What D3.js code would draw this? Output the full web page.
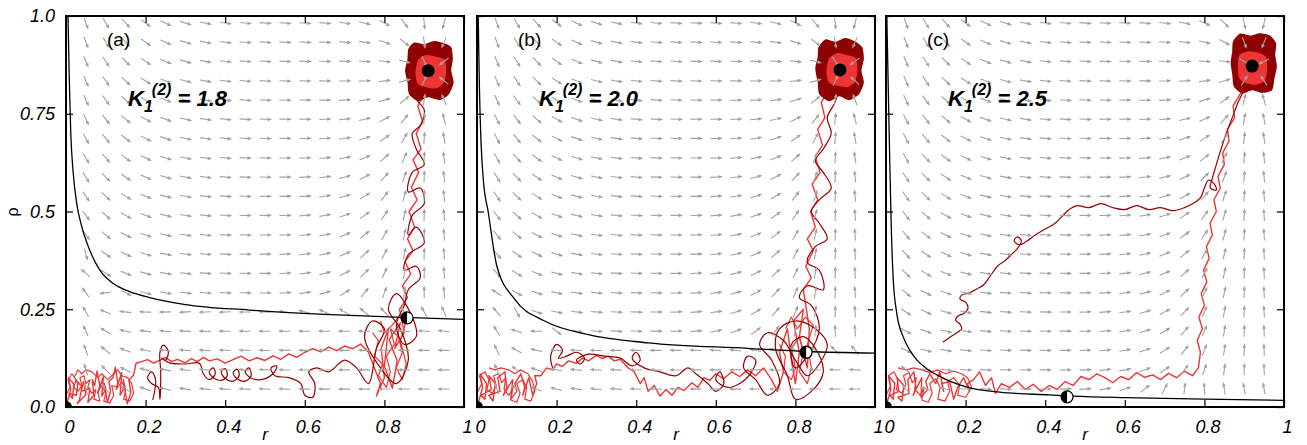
<!DOCTYPE html>
<html>
<head>
<meta charset="utf-8">
<script src="https://cdn.jsdelivr.net/npm/d3@7"></script>
<style>
body { margin: 0; background: #fff; }
text { font-family: "Liberation Sans", Arial, sans-serif; }
</style>
</head>
<body>
<div id="chart"></div>
<script>
// Panel labels and coupling values
var panelTags = ["(a)", "(b)", "(c)"];
var kValues = ["1.8", "2.0", "2.5"];

// Tick labels
var xTicks = [0, 0.2, 0.4, 0.6, 0.8, 1];
var xTickText = ["0", "0.2", "0.4", "0.6", "0.8", "1"];
var yTicks = [0, 0.25, 0.5, 0.75, 1];
var yTickText = ["0.0", "0.25", "0.5", "0.75", "1.0"];

// Vector field grid (r columns, rho rows)
var gridR = [0.05, 0.10, 0.15, 0.20, 0.25, 0.30, 0.35, 0.40, 0.45, 0.50, 0.55, 0.60, 0.65, 0.70, 0.75, 0.80, 0.85, 0.90, 0.95];
var gridRho = [0.046, 0.095, 0.145, 0.194, 0.243, 0.292, 0.342, 0.391, 0.440, 0.490, 0.539, 0.588, 0.637, 0.687, 0.736, 0.785, 0.834, 0.884, 0.933, 0.982];

// Fixed points: stable node, saddle
var nodePts = [[0.91, 0.86], [0.912, 0.862], [0.92, 0.872]];
var saddlePts = [[0.857, 0.228], [0.827, 0.14], [0.455, 0.026]];

// Separatrix curves
var sepA_r = [0.005, 0.008, 0.012, 0.018, 0.027, 0.04, 0.06, 0.085, 0.12, 0.16, 0.21, 0.3, 0.46, 0.65, 0.85, 1.0];
var sepA_rho = [1.0, 0.85, 0.7, 0.6, 0.52, 0.46, 0.4, 0.35, 0.315, 0.295, 0.28, 0.262, 0.248, 0.237, 0.229, 0.224];
var sepB_r = [0.003, 0.006, 0.01, 0.016, 0.028, 0.05, 0.095, 0.17, 0.28, 0.43, 0.68, 0.83, 1.0];
var sepB_rho = [1.0, 0.82, 0.68, 0.58, 0.5, 0.36, 0.275, 0.22, 0.185, 0.164, 0.15, 0.142, 0.138];
var sepC_r = [0.002, 0.005, 0.009, 0.013, 0.018, 0.027, 0.043, 0.06, 0.078, 0.1, 0.128, 0.16, 0.203, 0.286, 0.41, 0.47, 0.6, 0.8, 1.0];
var sepC_rho = [1.0, 0.85, 0.65, 0.47, 0.33, 0.24, 0.18, 0.145, 0.12, 0.1, 0.082, 0.066, 0.051, 0.038, 0.031, 0.028, 0.024, 0.02, 0.017];

// Noisy trajectories (bright) and smooth looping ones (dark), [r, rho]
var trajA_bright = [[0.003,0.012],[0.012,0.045],[0.006,0.075],[0.02,0.058],[0.016,0.022],[0.008,0.035],[0.026,0.03],[0.03,0.06],[0.024,0.07],[0.04,0.052],[0.034,0.018],[0.028,0.008],[0.05,0.032],[0.044,0.065],[0.038,0.04],[0.06,0.048],[0.055,0.012],[0.07,0.03],[0.066,0.07],[0.072,0.055],[0.078,0.092],[0.085,0.055],[0.08,0.035],[0.094,0.078],[0.09,0.028],[0.1,0.046],[0.096,0.06],[0.104,0.012],[0.112,0.04],[0.108,0.065],[0.118,0.075],[0.124,0.102],[0.13,0.062],[0.126,0.045],[0.14,0.088],[0.136,0.03],[0.148,0.052],[0.144,0.07],[0.154,0.008],[0.163,0.038],[0.158,0.068],[0.17,0.082],[0.176,0.112],[0.19,0.116],[0.205,0.121],[0.22,0.112],[0.235,0.119],[0.25,0.127],[0.265,0.116],[0.28,0.122],[0.3,0.113],[0.315,0.124],[0.33,0.116],[0.345,0.127],[0.36,0.118],[0.38,0.123],[0.4,0.112],[0.42,0.121],[0.44,0.13],[0.46,0.118],[0.48,0.126],[0.5,0.119],[0.52,0.131],[0.54,0.122],[0.56,0.136],[0.58,0.127],[0.6,0.14],[0.62,0.149],[0.64,0.141],[0.66,0.153],[0.68,0.144],[0.7,0.156],[0.72,0.149],[0.74,0.161],[0.76,0.14],[0.775,0.1],[0.79,0.06],[0.78,0.028],[0.8,0.075],[0.792,0.15],[0.81,0.2],[0.8,0.105],[0.82,0.048],[0.832,0.118],[0.812,0.172],[0.84,0.215],[0.826,0.15],[0.85,0.19],[0.838,0.25],[0.858,0.28],[0.845,0.31],[0.866,0.34],[0.852,0.372],[0.872,0.4],[0.858,0.43],[0.876,0.46],[0.862,0.5],[0.882,0.53],[0.868,0.562],[0.886,0.6],[0.872,0.632],[0.892,0.66],[0.88,0.7],[0.896,0.73],[0.884,0.77],[0.9,0.8],[0.906,0.84]];
var trajA_dark = [[0.218,0.018],[0.225,0.07],[0.215,0.09],[0.205,0.075],[0.215,0.06],[0.232,0.05],[0.236,0.02],[0.238,0.09],[0.236,0.14],[0.245,0.158],[0.257,0.142],[0.25,0.12],[0.24,0.125],[0.26,0.113],[0.3,0.11],[0.335,0.112],[0.345,0.085],[0.36,0.07],[0.375,0.085],[0.37,0.1],[0.36,0.09],[0.37,0.075],[0.39,0.068],[0.405,0.08],[0.4,0.098],[0.39,0.09],[0.4,0.073],[0.42,0.066],[0.435,0.08],[0.43,0.097],[0.42,0.088],[0.43,0.072],[0.45,0.066],[0.465,0.08],[0.46,0.1],[0.45,0.09],[0.465,0.074],[0.49,0.07],[0.52,0.085],[0.53,0.105],[0.515,0.1],[0.525,0.08],[0.56,0.075],[0.59,0.06],[0.6,0.03],[0.62,0.025],[0.625,0.06],[0.61,0.09],[0.63,0.1],[0.66,0.09],[0.7,0.12],[0.73,0.1],[0.76,0.06],[0.78,0.15],[0.8,0.2],[0.77,0.22],[0.75,0.18],[0.79,0.1],[0.83,0.06],[0.86,0.12],[0.84,0.2],[0.81,0.25],[0.83,0.29],[0.87,0.23],[0.88,0.18],[0.85,0.16],[0.83,0.21],[0.85,0.26],[0.86,0.3],[0.89,0.33],[0.88,0.36],[0.85,0.35],[0.86,0.39],[0.9,0.42],[0.88,0.46],[0.86,0.44],[0.87,0.49],[0.9,0.52],[0.89,0.56],[0.86,0.55],[0.87,0.6],[0.9,0.62],[0.88,0.66],[0.87,0.7],[0.89,0.72],[0.9,0.76],[0.88,0.79],[0.91,0.82]];
var trajB_bright = [[0.003,0.01],[0.014,0.05],[0.008,0.085],[0.024,0.06],[0.02,0.02],[0.01,0.03],[0.036,0.045],[0.03,0.08],[0.046,0.06],[0.04,0.015],[0.03,0.03],[0.058,0.04],[0.052,0.075],[0.07,0.09],[0.075,0.05],[0.066,0.03],[0.09,0.07],[0.085,0.02],[0.1,0.04],[0.095,0.06],[0.11,0.085],[0.12,0.05],[0.115,0.03],[0.13,0.075],[0.14,0.03],[0.15,0.06],[0.145,0.08],[0.16,0.08],[0.175,0.1],[0.19,0.095],[0.2,0.11],[0.215,0.104],[0.23,0.118],[0.25,0.112],[0.265,0.125],[0.28,0.118],[0.3,0.132],[0.315,0.124],[0.33,0.13],[0.345,0.118],[0.36,0.122],[0.38,0.1],[0.395,0.09],[0.41,0.06],[0.42,0.075],[0.43,0.04],[0.445,0.055],[0.46,0.028],[0.475,0.045],[0.49,0.03],[0.505,0.05],[0.52,0.042],[0.54,0.062],[0.555,0.05],[0.57,0.075],[0.585,0.068],[0.6,0.085],[0.62,0.072],[0.64,0.09],[0.66,0.078],[0.68,0.095],[0.7,0.08],[0.72,0.1],[0.74,0.07],[0.755,0.04],[0.77,0.09],[0.76,0.14],[0.78,0.2],[0.79,0.12],[0.8,0.06],[0.81,0.14],[0.795,0.22],[0.82,0.25],[0.81,0.18],[0.83,0.1],[0.835,0.2],[0.82,0.3],[0.84,0.33],[0.826,0.36],[0.845,0.4],[0.83,0.43],[0.85,0.46],[0.838,0.5],[0.856,0.53],[0.842,0.57],[0.862,0.6],[0.85,0.64],[0.868,0.67],[0.856,0.71],[0.874,0.74],[0.865,0.78],[0.885,0.81],[0.9,0.84]];
var trajB_dark = [[0.19,0.1],[0.185,0.13],[0.2,0.16],[0.215,0.145],[0.205,0.125],[0.225,0.13],[0.25,0.14],[0.27,0.125],[0.26,0.11],[0.25,0.12],[0.28,0.135],[0.32,0.13],[0.36,0.125],[0.39,0.105],[0.41,0.12],[0.4,0.14],[0.39,0.125],[0.42,0.1],[0.46,0.09],[0.5,0.08],[0.53,0.1],[0.55,0.085],[0.58,0.06],[0.6,0.04],[0.62,0.06],[0.61,0.09],[0.6,0.07],[0.63,0.05],[0.66,0.06],[0.69,0.09],[0.7,0.12],[0.68,0.13],[0.67,0.1],[0.7,0.07],[0.73,0.03],[0.76,0.06],[0.74,0.12],[0.71,0.16],[0.73,0.19],[0.77,0.17],[0.8,0.12],[0.83,0.08],[0.86,0.11],[0.88,0.16],[0.85,0.2],[0.8,0.22],[0.76,0.2],[0.75,0.15],[0.78,0.08],[0.8,0.02],[0.84,0.04],[0.87,0.09],[0.85,0.15],[0.82,0.18],[0.79,0.16],[0.8,0.1],[0.83,0.13],[0.86,0.2],[0.84,0.26],[0.81,0.28],[0.83,0.31],[0.87,0.3],[0.86,0.35],[0.83,0.37],[0.85,0.41],[0.88,0.43],[0.86,0.47],[0.84,0.5],[0.86,0.53],[0.89,0.56],[0.87,0.6],[0.85,0.63],[0.87,0.66],[0.89,0.7],[0.88,0.74],[0.9,0.78],[0.91,0.82]];
var trajC_bright = [[0.003,0.012],[0.012,0.045],[0.006,0.08],[0.022,0.06],[0.018,0.02],[0.01,0.03],[0.032,0.04],[0.028,0.075],[0.045,0.055],[0.04,0.015],[0.03,0.025],[0.058,0.035],[0.055,0.07],[0.07,0.09],[0.075,0.05],[0.068,0.03],[0.09,0.075],[0.088,0.025],[0.105,0.045],[0.1,0.065],[0.11,0.085],[0.125,0.06],[0.135,0.09],[0.145,0.04],[0.14,0.06],[0.16,0.065],[0.17,0.02],[0.18,0.05],[0.195,0.075],[0.21,0.04],[0.205,0.06],[0.22,0.07],[0.235,0.09],[0.25,0.055],[0.265,0.075],[0.275,0.035],[0.29,0.06],[0.31,0.05],[0.33,0.065],[0.35,0.045],[0.37,0.058],[0.39,0.04],[0.41,0.055],[0.43,0.045],[0.45,0.065],[0.47,0.055],[0.49,0.078],[0.51,0.07],[0.53,0.085],[0.55,0.075],[0.57,0.062],[0.59,0.078],[0.61,0.07],[0.63,0.088],[0.65,0.076],[0.67,0.082],[0.69,0.07],[0.71,0.086],[0.73,0.075],[0.75,0.092],[0.77,0.08],[0.785,0.1],[0.79,0.14],[0.782,0.17],[0.795,0.2],[0.786,0.23],[0.8,0.26],[0.792,0.29],[0.806,0.32],[0.798,0.35],[0.812,0.38],[0.805,0.41],[0.82,0.44],[0.814,0.47],[0.83,0.5],[0.824,0.53],[0.84,0.56],[0.834,0.59],[0.85,0.62],[0.846,0.65],[0.862,0.68],[0.858,0.71],[0.876,0.74],[0.872,0.77],[0.89,0.8],[0.905,0.83]];
var trajC_dark = [[0.143,0.166],[0.16,0.178],[0.178,0.19],[0.19,0.2],[0.186,0.212],[0.175,0.222],[0.18,0.232],[0.196,0.24],[0.206,0.252],[0.2,0.268],[0.186,0.276],[0.19,0.286],[0.21,0.292],[0.228,0.302],[0.245,0.312],[0.262,0.335],[0.28,0.36],[0.3,0.375],[0.315,0.39],[0.33,0.405],[0.34,0.425],[0.33,0.435],[0.322,0.425],[0.335,0.415],[0.355,0.425],[0.375,0.44],[0.4,0.455],[0.425,0.47],[0.445,0.49],[0.46,0.505],[0.48,0.515],[0.51,0.51],[0.54,0.52],[0.57,0.51],[0.6,0.505],[0.63,0.515],[0.66,0.505],[0.69,0.51],[0.72,0.502],[0.75,0.51],[0.77,0.52],[0.79,0.535],[0.8,0.56],[0.81,0.58],[0.825,0.57],[0.83,0.555],[0.815,0.56],[0.82,0.585],[0.83,0.62],[0.842,0.66],[0.855,0.7],[0.87,0.74],[0.885,0.78],[0.9,0.81]];

// Extra scribbles where the noisy walks pile up (origin basin, near the saddle)
var scribA = [[0.0,0.03],[0.01,0.05],[0.005,0.07],[0.015,0.085],[0.025,0.07],[0.02,0.05],[0.03,0.04],[0.04,0.055],[0.035,0.075],[0.045,0.08],[0.05,0.06],[0.06,0.07],[0.055,0.05],[0.065,0.035],[0.075,0.045],[0.07,0.02],[0.085,0.015],[0.08,0.04],[0.09,0.055],[0.1,0.035],[0.095,0.015],[0.11,0.01],[0.12,0.03],[0.115,0.055],[0.13,0.05],[0.14,0.065],[0.15,0.045],[0.145,0.02],[0.16,0.015],[0.17,0.035],[0.165,0.06],[0.155,0.075],[0.14,0.08],[0.13,0.095],[0.12,0.085],[0.105,0.07],[0.09,0.085],[0.08,0.075],[0.065,0.09],[0.05,0.095],[0.04,0.085],[0.03,0.095],[0.02,0.075]];
var scribA_saddle = [[0.77,0.19],[0.785,0.17],[0.775,0.13],[0.795,0.11],[0.785,0.08],[0.805,0.05],[0.815,0.09],[0.805,0.13],[0.825,0.16],[0.815,0.2],[0.835,0.18],[0.845,0.14],[0.83,0.1],[0.845,0.07],[0.855,0.11],[0.84,0.17],[0.855,0.22],[0.835,0.23],[0.82,0.21],[0.8,0.19],[0.79,0.22]];
var scribB = [[0.0,0.035],[0.012,0.06],[0.006,0.08],[0.02,0.09],[0.03,0.07],[0.025,0.045],[0.038,0.035],[0.048,0.055],[0.042,0.08],[0.055,0.085],[0.062,0.062],[0.072,0.075],[0.068,0.045],[0.08,0.03],[0.09,0.048],[0.085,0.018],[0.1,0.012],[0.108,0.035],[0.1,0.06],[0.115,0.07],[0.125,0.05],[0.12,0.02],[0.135,0.015],[0.145,0.04],[0.14,0.065],[0.128,0.085],[0.11,0.095],[0.095,0.085],[0.08,0.095],[0.06,0.1],[0.045,0.095],[0.03,0.1]];
var scribB_saddle = [[0.76,0.16],[0.775,0.13],[0.77,0.09],[0.79,0.07],[0.8,0.1],[0.79,0.15],[0.81,0.18],[0.82,0.14],[0.81,0.09],[0.83,0.06],[0.84,0.1],[0.83,0.16],[0.845,0.21],[0.825,0.23],[0.805,0.2],[0.79,0.23],[0.775,0.2]];
var scribC = [[0.0,0.03],[0.012,0.055],[0.006,0.08],[0.02,0.09],[0.03,0.07],[0.026,0.045],[0.04,0.035],[0.05,0.058],[0.044,0.08],[0.058,0.088],[0.066,0.062],[0.076,0.075],[0.072,0.045],[0.086,0.03],[0.096,0.05],[0.09,0.018],[0.106,0.012],[0.116,0.035],[0.11,0.06],[0.125,0.072],[0.136,0.05],[0.13,0.02],[0.148,0.015],[0.16,0.04],[0.155,0.065],[0.17,0.075],[0.185,0.055],[0.18,0.03],[0.2,0.025],[0.215,0.05],[0.205,0.075],[0.19,0.085],[0.17,0.092],[0.15,0.085],[0.13,0.095],[0.11,0.088],[0.09,0.095],[0.07,0.1],[0.05,0.095],[0.03,0.1]];

// Fluctuation clouds round the stable node: outer (dark) and inner (bright)
var cloudA_outer = [[0.86,0.915],[0.875,0.932],[0.9,0.928],[0.925,0.936],[0.95,0.93],[0.968,0.92],[0.972,0.89],[0.968,0.86],[0.974,0.83],[0.962,0.8],[0.94,0.785],[0.91,0.792],[0.885,0.782],[0.862,0.8],[0.858,0.83],[0.852,0.86],[0.858,0.89]];
var cloudA_inner = [[0.885,0.888],[0.905,0.9],[0.93,0.896],[0.952,0.888],[0.955,0.86],[0.95,0.83],[0.93,0.815],[0.905,0.818],[0.884,0.826],[0.878,0.855]];
var cloudB_outer = [[0.858,0.92],[0.875,0.94],[0.9,0.934],[0.925,0.944],[0.95,0.935],[0.968,0.92],[0.972,0.89],[0.966,0.86],[0.972,0.83],[0.96,0.8],[0.935,0.785],[0.91,0.795],[0.885,0.782],[0.86,0.8],[0.856,0.83],[0.85,0.865],[0.856,0.895]];
var cloudB_inner = [[0.885,0.892],[0.905,0.905],[0.93,0.9],[0.952,0.892],[0.956,0.862],[0.95,0.832],[0.93,0.818],[0.905,0.822],[0.884,0.83],[0.878,0.86]];
var cloudC_outer = [[0.872,0.935],[0.89,0.955],[0.915,0.95],[0.94,0.956],[0.965,0.95],[0.98,0.93],[0.978,0.9],[0.982,0.87],[0.976,0.84],[0.97,0.81],[0.945,0.803],[0.92,0.81],[0.895,0.802],[0.874,0.82],[0.87,0.85],[0.866,0.88],[0.87,0.91]];
var cloudC_inner = [[0.888,0.9],[0.91,0.91],[0.935,0.906],[0.955,0.895],[0.958,0.865],[0.952,0.835],[0.93,0.824],[0.905,0.828],[0.888,0.84],[0.884,0.87]];

var panels = [
  {x0: 66,  sepR: sepA_r, sepRho: sepA_rho, bright: trajA_bright, dark: trajA_dark, scrib: [scribA, scribA_saddle], outer: cloudA_outer, inner: cloudA_inner},
  {x0: 477, sepR: sepB_r, sepRho: sepB_rho, bright: trajB_bright, dark: trajB_dark, scrib: [scribB, scribB_saddle], outer: cloudB_outer, inner: cloudB_inner},
  {x0: 886, sepR: sepC_r, sepRho: sepC_rho, bright: trajC_bright, dark: trajC_dark, scrib: [scribC], outer: cloudC_outer, inner: cloudC_inner}
];

var svgWidth = 1307;
var svgHeight = 445;
var plotW = 398;
var plotTop = 16;
var plotBottom = 407;

var brightRed = "#ee3535";
var darkRed = "#960000";
var arrowGrey = "#a3a3a3";

var svg = d3.select("#chart")
  .append("svg")
  .attr("width", svgWidth)
  .attr("height", svgHeight);

// direction of the flow at (r, rho), blended across the separatrix
function flow(r, p, sep, node) {
  var g = sep(r);
  var s = 1 / (1 + Math.exp(-(p - g) / 0.015));
  var dr1 = node[0] - r;
  var dp1 = (node[1] - p) * Math.pow(r / node[0], 6) - 4 * p * Math.exp(-r / 0.1);
  var dr0 = -r;
  var dp0 = 0.6 * (g - p) * Math.exp(-r / 0.3);
  return [s * dr1 + (1 - s) * dr0, s * dp1 + (1 - s) * dp0];
}

panels.forEach(function(P, i) {
  var x = d3.scaleLinear().domain([0, 1]).range([P.x0, P.x0 + plotW]);
  var y = d3.scaleLinear().domain([0, 1]).range([plotBottom, plotTop]);
  var sep = d3.scaleLinear().domain(P.sepR).range(P.sepRho).clamp(true);

  var g = svg.append("g").attr("class", "panel");

  svg.append("clipPath").attr("id", "clip" + i)
    .append("rect")
    .attr("x", P.x0).attr("y", plotTop)
    .attr("width", plotW).attr("height", plotBottom - plotTop);

  var inner = g.append("g").attr("clip-path", "url(#clip" + i + ")");

  var line = d3.line()
    .x(d => x(d[0]))
    .y(d => y(d[1]));

  // trajectories
  inner.selectAll("path.scrib")
    .data(P.scrib)
    .enter()
    .append("path")
    .attr("class", "scrib")
    .attr("d", d => line(d))
    .attr("fill", "none")
    .attr("stroke", brightRed)
    .attr("stroke-width", 1.2)
    .attr("stroke-linejoin", "round");

  inner.append("path")
    .attr("d", line(P.bright))
    .attr("fill", "none")
    .attr("stroke", brightRed)
    .attr("stroke-width", 1.4)
    .attr("stroke-linejoin", "round");

  inner.append("path")
    .attr("d", d3.line().x(d => x(d[0])).y(d => y(d[1])).curve(d3.curveCatmullRom)(P.dark))
    .attr("fill", "none")
    .attr("stroke", darkRed)
    .attr("stroke-width", 1.2);

  // clouds round the node
  var closed = d3.line().x(d => x(d[0])).y(d => y(d[1])).curve(d3.curveCardinalClosed.tension(0.3));
  inner.append("path").attr("d", closed(P.outer)).attr("fill", "#8f0000");
  inner.append("path").attr("d", closed(P.inner)).attr("fill", brightRed);

  // vector field
  var arrows = [];
  gridR.forEach(function(r) {
    gridRho.forEach(function(p) {
      var v = flow(r, p, sep, nodePts[i]);
      var dx = v[0] * plotW, dy = -v[1] * (plotBottom - plotTop);
      var len = Math.sqrt(dx * dx + dy * dy) || 1;
      arrows.push({cx: x(r), cy: y(p), ux: dx / len, uy: dy / len});
    });
  });

  var L = 11;
  inner.append("g").selectAll("path")
    .data(arrows)
    .enter()
    .append("path")
    .attr("d", function(d) {
      var x1 = d.cx - d.ux * L / 2, y1 = d.cy - d.uy * L / 2;
      var x2 = d.cx + d.ux * L / 2, y2 = d.cy + d.uy * L / 2;
      var hx = x2 - d.ux * 2.5, hy = y2 - d.uy * 2.5;
      var px = -d.uy * 1.0, py = d.ux * 1.0;
      return "M" + x1 + "," + y1 + "L" + x2 + "," + y2 +
        "M" + x2 + "," + y2 + "L" + (hx + px) + "," + (hy + py) + "L" + (hx - px) + "," + (hy - py) + "Z";
    })
    .attr("fill", arrowGrey)
    .attr("stroke", arrowGrey)
    .attr("stroke-width", 1.1);

  // separatrix
  var sepPts = P.sepR.map((r, k) => [r, P.sepRho[k]]);
  inner.append("path")
    .attr("d", d3.line().x(d => x(d[0])).y(d => y(d[1])).curve(d3.curveMonotoneX)(sepPts))
    .attr("fill", "none")
    .attr("stroke", "#000")
    .attr("stroke-width", 1.3);

  // fixed points
  inner.append("circle").attr("cx", x(0)).attr("cy", y(0)).attr("r", 6).attr("fill", "#000");
  inner.append("circle").attr("cx", x(nodePts[i][0])).attr("cy", y(nodePts[i][1])).attr("r", 6.5).attr("fill", "#000");
  var sx = x(saddlePts[i][0]), sy = y(saddlePts[i][1]);
  inner.append("circle").attr("cx", sx).attr("cy", sy).attr("r", 6).attr("fill", "#fff").attr("stroke", "#000").attr("stroke-width", 1.3);
  inner.append("path")
    .attr("d", "M" + sx + "," + (sy - 6) + "A6,6 0 0,0 " + sx + "," + (sy + 6) + "Z")
    .attr("fill", "#000");

  // axes with inward ticks on all four sides
  g.append("g")
    .attr("transform", `translate(0, ${plotBottom})`)
    .call(d3.axisBottom(x).tickValues(xTicks).tickSize(-7).tickPadding(13)
      .tickFormat((d, k) => xTickText[k]))
    .call(a => a.select(".domain").remove())
    .selectAll("text")
    .attr("dx", 3)
    .style("font-size", "18px")
    .style("font-style", "italic")
    .style("font-family", '"Liberation Sans", Arial, sans-serif');

  g.append("g")
    .attr("transform", `translate(0, ${plotTop})`)
    .call(d3.axisTop(x).tickValues(xTicks).tickSize(-7).tickFormat(""))
    .call(a => a.select(".domain").remove());

  var left = g.append("g")
    .attr("transform", `translate(${P.x0}, 0)`)
    .call(d3.axisLeft(y).tickValues(yTicks).tickSize(-7).tickPadding(11)
      .tickFormat((d, k) => i === 0 ? yTickText[k] : ""))
    .call(a => a.select(".domain").remove());
  left.selectAll("text")
    .style("font-size", "18px")
    .style("font-style", "italic")
    .style("font-family", '"Liberation Sans", Arial, sans-serif');

  g.append("g")
    .attr("transform", `translate(${P.x0 + plotW}, 0)`)
    .call(d3.axisRight(y).tickValues(yTicks).tickSize(-7).tickFormat(""))
    .call(a => a.select(".domain").remove());

  g.selectAll(".tick line").attr("stroke", "#000").attr("stroke-width", 1.2);

  // frame
  g.append("rect")
    .attr("x", P.x0).attr("y", plotTop)
    .attr("width", plotW).attr("height", plotBottom - plotTop)
    .attr("fill", "none")
    .attr("stroke", "#000")
    .attr("stroke-width", 2);

  // panel tag and coupling label
  g.append("text")
    .attr("x", P.x0 + 41).attr("y", 46)
    .style("font-size", "19px")
    .text(panelTags[i]);

  var k = g.append("text")
    .attr("x", P.x0 + 62).attr("y", 106)
    .style("font-size", "22px")
    .style("font-weight", "bold")
    .style("font-style", "italic");
  k.append("tspan").text("K");
  k.append("tspan").attr("dy", 6).style("font-size", "16px").text("1");
  k.append("tspan").attr("dy", -17).attr("dx", -1).style("font-size", "16px").text("(2)");
  k.append("tspan").attr("dy", 11).text(" = " + kValues[i]);

  // x axis title
  g.append("text")
    .attr("x", x(0.5)).attr("y", 440)
    .attr("text-anchor", "middle")
    .style("font-size", "17px")
    .style("font-style", "italic")
    .text("r");
});

// y axis title
svg.append("text")
  .attr("transform", "translate(18, 212) rotate(-90)")
  .attr("text-anchor", "middle")
  .style("font-size", "16px")
  .text("ρ");
</script>
</body>
</html>
